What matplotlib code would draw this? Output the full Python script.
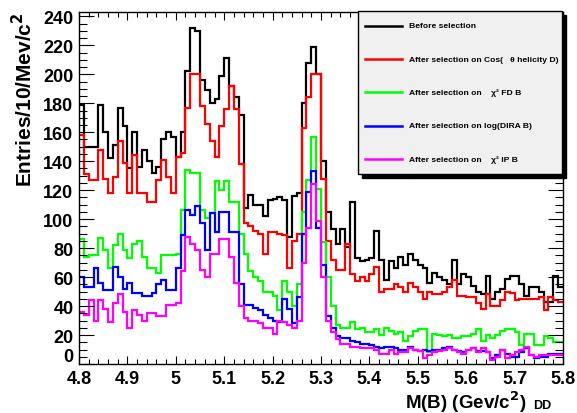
import matplotlib
matplotlib.use("Agg")
import matplotlib.pyplot as plt
import numpy as np
from matplotlib.lines import Line2D
from matplotlib.patches import Rectangle
from matplotlib.ticker import MultipleLocator, FuncFormatter

plt.rcParams["font.family"] = ["Liberation Sans", "DejaVu Sans"]
plt.rcParams["font.weight"] = "bold"
plt.rcParams["mathtext.default"] = "bf"

# histogram range and binning (10 MeV bins)
X_MIN, X_MAX, N_BINS = 4.8, 5.8, 100

before_sel = [
    179, 150, 150, 150, 179, 160, 142, 151, 177, 164,
    135, 160, 136, 148, 140, 132, 136, 155, 160, 157,
    143, 160, 202, 232, 230, 196, 189, 180, 183, 199,
    211, 192, 184, 172, 108, 117, 110, 110, 102, 113,
    114, 115, 113, 88, 116, 118, 180, 208, 219, 200,
    140, 105, 93, 83, 93, 81, 112, 73, 71, 72,
    73, 92, 72, 58, 71, 66, 74, 68, 76, 72,
    68, 66, 56, 63, 60, 58, 55, 72, 55, 62,
    60, 54, 50, 48, 61, 45, 50, 52, 59, 61,
    61, 55, 47, 53, 53, 50, 43, 43, 61, 53,
]
cos_helicity = [
    158, 131, 127, 127, 148, 128, 118, 129, 154, 139,
    118, 144, 118, 118, 112, 112, 127, 141, 129, 118,
    143, 146, 177, 200, 200, 178, 166, 154, 143, 164,
    176, 192, 176, 138, 97, 95, 92, 90, 76, 91,
    91, 90, 89, 66, 85, 90, 163, 184, 200, 200,
    128, 85, 72, 65, 65, 83, 62, 57, 60, 57,
    62, 67, 50, 52, 52, 55, 53, 50, 56, 53,
    50, 45, 50, 48, 48, 50, 53, 58, 47, 47,
    46, 46, 42, 38, 48, 40, 40, 44, 50, 49,
    44, 45, 45, 45, 45, 46, 37, 46, 44, 43,
]
chi2_fd = [
    86, 74, 75, 75, 87, 79, 66, 82, 90, 79,
    73, 83, 85, 74, 66, 66, 63, 75, 75, 75,
    76, 106, 134, 132, 132, 106, 101, 104, 126, 120,
    126, 112, 112, 90, 76, 64, 60, 57, 50, 50,
    47, 37, 57, 50, 40, 55, 105, 127, 157, 121,
    84, 60, 40, 27, 25, 25, 29, 24, 25, 22,
    22, 24, 20, 25, 23, 21, 22, 16, 19, 23,
    24, 24, 8, 21, 20, 19, 20, 18, 18, 19,
    19, 21, 24, 16, 20, 18, 20, 23, 24, 24,
    22, 13, 21, 21, 13, 13, 19, 18, 15, 15,
]
log_dira = [
    60, 53, 53, 66, 56, 51, 51, 67, 60, 52,
    56, 49, 49, 47, 47, 49, 55, 58, 51, 51,
    66, 89, 106, 103, 109, 97, 79, 104, 91, 105,
    105, 91, 91, 55, 41, 41, 39, 37, 34, 32,
    30, 29, 45, 38, 28, 46, 90, 119, 133, 94,
    68, 33, 25, 19, 18, 18, 16, 15, 14, 14,
    13, 12, 11, 12, 12, 11, 10, 10, 12, 10,
    9, 10, 9, 10, 10, 11, 12, 10, 9, 8,
    10, 11, 9, 9, 8, 4, 6, 10, 7, 5,
    5, 8, 11, 6, 4, 5, 5, 7, 7, 7,
]
chi2_ip = [
    36, 34, 44, 30, 44, 38, 29, 42, 48, 36,
    25, 37, 34, 30, 35, 35, 33, 33, 41, 41,
    42, 64, 88, 83, 79, 65, 60, 76, 76, 86,
    86, 74, 56, 40, 32, 30, 30, 28, 25, 25,
    21, 30, 29, 27, 25, 30, 70, 94, 124, 99,
    60, 30, 22, 17, 14, 14, 12, 12, 11, 11,
    11, 10, 7, 7, 10, 7, 8, 8, 11, 10,
    9, 4, 6, 8, 9, 10, 11, 10, 8, 7,
    10, 11, 8, 11, 8, 3, 5, 10, 4, 6,
    8, 10, 12, 6, 5, 6, 6, 6, 6, 6,
]

labels = [
    "Before selection",
    "After selection on Cos(   \u03b8 helicity D)",
    "After selection on    \u03c7\u00b2 FD B",
    "After selection on log(DIRA B)",
    "After selection on    \u03c7\u00b2 IP B",
]
colors = ["#000000", "#ff0000", "#00ff00", "#0000ff", "#ff00ff"]
series = [before_sel, cos_helicity, chi2_fd, log_dira, chi2_ip]

W, H = 577, 414
fig = plt.figure(figsize=(W / 100, H / 100), dpi=100)
ax = fig.add_axes([79 / W, 1 - 365 / H, (563 - 79) / W, (365 - 13) / H])

edges = np.linspace(X_MIN, X_MAX, N_BINS + 1)
for vals, col in zip(series, colors):
    ax.stairs(vals, edges, color=col, linewidth=1.6, baseline=None)

ax.set_xlim(X_MIN, X_MAX)
ax.set_ylim(0, 243)
ax.xaxis.set_major_locator(MultipleLocator(0.1))
ax.xaxis.set_minor_locator(MultipleLocator(0.02))
ax.yaxis.set_major_locator(MultipleLocator(20))
ax.yaxis.set_minor_locator(MultipleLocator(5))
ax.xaxis.set_major_formatter(FuncFormatter(lambda v, p: f"{v:g}"))
# the "0" is drawn by hand below, nudged up like ROOT does
ax.yaxis.set_major_formatter(FuncFormatter(lambda v, p: "" if v == 0 else f"{v:g}"))
ax.tick_params(which="both", direction="in", top=True, right=True, width=0.8)
ax.tick_params(axis="y", which="major", length=10.5, labelsize=13, pad=4)
ax.tick_params(axis="y", which="minor", length=5.5)
ax.tick_params(axis="x", which="major", length=6, labelsize=13, pad=4.5)
ax.tick_params(axis="x", which="minor", length=3.5)
for sp in ax.spines.values():
    sp.set_linewidth(1.0)

fig.text(73 / W, 1 - 357 / H, "0", ha="right", va="center", fontsize=13,
         fontweight="bold")
fig.text(24 / W, 1 - 12 / H, "Entries/10/Mev/c$^2$", rotation=90,
         ha="center", va="top", fontsize=15, fontweight="bold")
fig.text(526 / W, 1 - 409 / H, "M(B) (Gev/c$^2$)", ha="right", va="baseline",
         fontsize=13.5, fontweight="bold")
fig.text(533 / W, 1 - 409 / H, "DD", ha="left", va="baseline",
         fontsize=9, fontweight="bold")

# legend box with ROOT-style shadow
bx0, by0, bx1, by1 = 358, 12, 562, 175
fig.patches.append(Rectangle(((bx0 + 4) / W, 1 - (by1 + 4) / H), (bx1 - bx0) / W,
                             (by1 - by0) / H, transform=fig.transFigure,
                             facecolor="black", edgecolor="black", zorder=5))
fig.patches.append(Rectangle((bx0 / W, 1 - by1 / H), (bx1 - bx0) / W,
                             (by1 - by0) / H, transform=fig.transFigure,
                             facecolor="#f0f0f0", edgecolor="black", linewidth=1,
                             zorder=6))
for i, (lab, col) in enumerate(zip(labels, colors)):
    yy = 1 - (27 + 33.2 * i) / H
    fig.lines.append(Line2D([365 / W, 402 / W], [yy, yy], transform=fig.transFigure,
                            color=col, linewidth=1.8, zorder=7))
    fig.text(409 / W, yy, lab, ha="left", va="center", fontsize=6.1,
             fontweight="bold", zorder=8)

fig.savefig("out.png", dpi=100)
